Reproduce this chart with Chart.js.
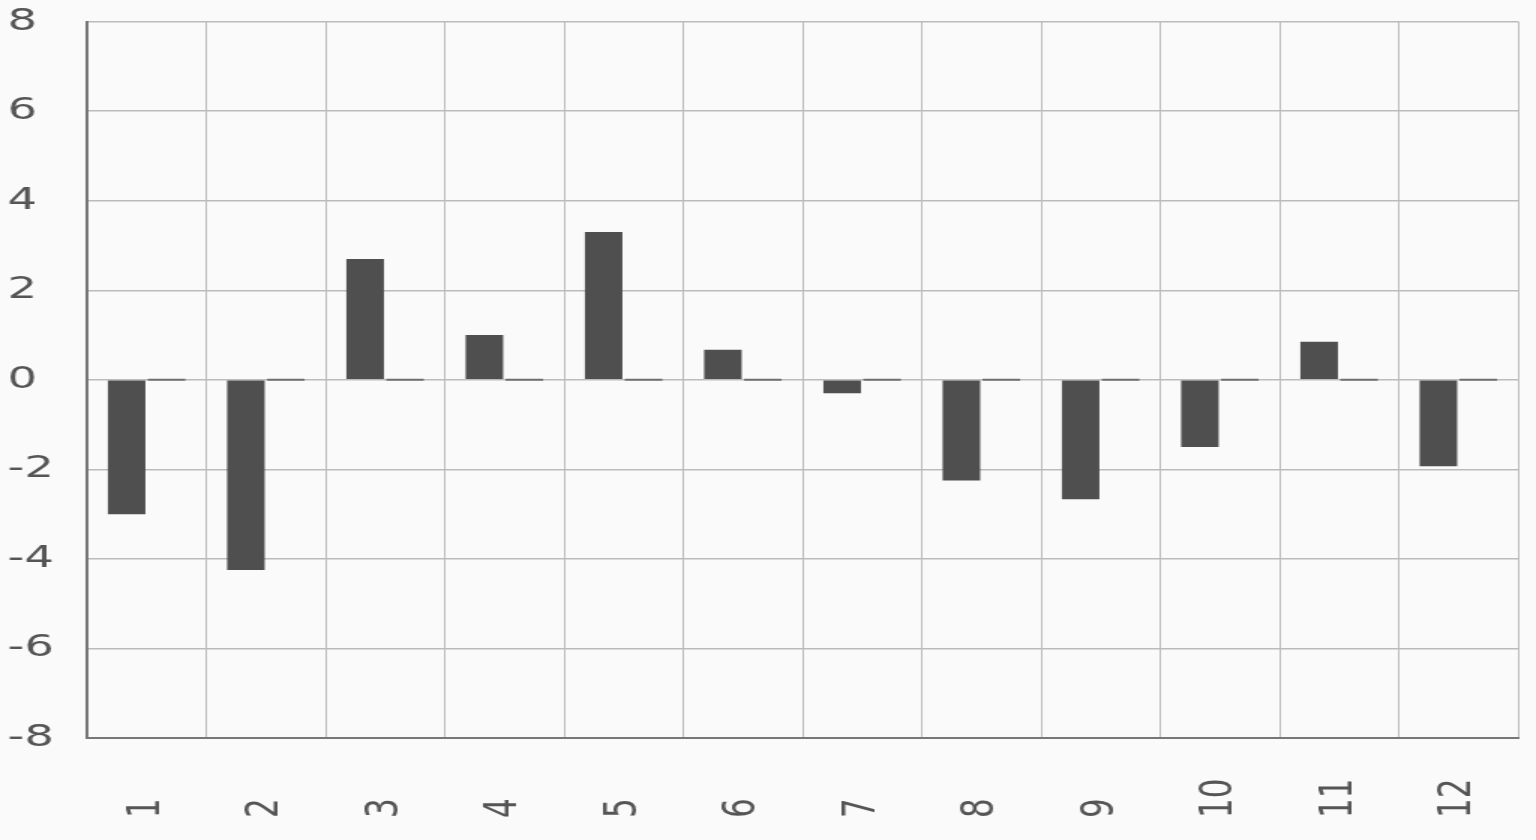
<!DOCTYPE html>
<html>
<head>
<meta charset="utf-8">
<script src="https://cdn.jsdelivr.net/npm/chart.js@4/dist/chart.umd.min.js"></script>
<style>
  html, body { margin: 0; padding: 0; background: #fafafa; overflow: hidden; }
  #wrap { width: 1024px; height: 840px; transform: scaleX(1.5); transform-origin: 0 0; }
</style>
</head>
<body>
<div id="wrap"><canvas id="chart" width="1024" height="840"></canvas></div>
<script>
const categories = ['1', '2', '3', '4', '5', '6', '7', '8', '9', '10', '11', '12'];
const mainValues = [-3.0, -4.25, 2.7, 1.0, 3.3, 0.67, -0.3, -2.25, -2.67, -1.5, 0.85, -1.93];
const flatValues = [0, 0, 0, 0, 0, 0, 0, 0, 0, 0, 0, 0];
const yTicks = [-8, -6, -4, -2, 0, 2, 4, 6, 8];

const tickFont = { family: '"DejaVu Sans", sans-serif', size: 31 };

// x labels read bottom-to-top, which Chart.js rotation can't do, so draw them here
const rotatedLabels = {
  id: 'rotatedLabels',
  afterDraw(chart) {
    const ctx = chart.ctx;
    const xScale = chart.scales.x;
    ctx.save();
    ctx.fillStyle = '#555';
    ctx.font = `${tickFont.size}px ${tickFont.family}`;
    ctx.textAlign = 'left';
    ctx.textBaseline = 'middle';
    categories.forEach((label, i) => {
      const x = xScale.getPixelForTick(i);
      ctx.save();
      ctx.translate(x, 818);
      ctx.rotate(-Math.PI / 2);
      ctx.fillText(label, 0, 0);
      ctx.restore();
    });
    ctx.restore();
  }
};

const chart = new Chart(document.getElementById('chart').getContext('2d'), {
  type: 'bar',
  data: {
    labels: categories,
    datasets: [
      {
        data: mainValues,
        backgroundColor: '#4f4f4f',
        borderWidth: 0,
      },
      {
        data: flatValues,
        backgroundColor: '#6f6f6f',
        borderWidth: 0,
        minBarLength: 2,
      }
    ],
  },
  options: {
    responsive: false,
    animation: false,
    devicePixelRatio: 1,
    categoryPercentage: 0.67,
    barPercentage: 0.94,
    layout: {
      padding: { left: 5, top: 19, right: 12, bottom: 102 },
    },
    scales: {
      x: {
        grid: {
          color: '#bbb',
          lineWidth: 1,
          drawTicks: false,
        },
        border: { color: '#777', width: 2 },
        ticks: { display: false },
      },
      y: {
        min: -8,
        max: 8,
        afterBuildTicks: (scale) => {
          scale.ticks = yTicks.map((v) => ({ value: v }));
        },
        afterFit: (scale) => {
          scale.width = 53;
        },
        grid: {
          color: '#bbb',
          lineWidth: 1.5,
          drawTicks: false,
        },
        border: { color: '#777', width: 2 },
        ticks: {
          color: '#555',
          font: tickFont,
          crossAlign: 'far',
        },
      },
    },
    plugins: {
      legend: { display: false },
      tooltip: { enabled: false },
    },
  },
  plugins: [rotatedLabels],
});
</script>
</body>
</html>
